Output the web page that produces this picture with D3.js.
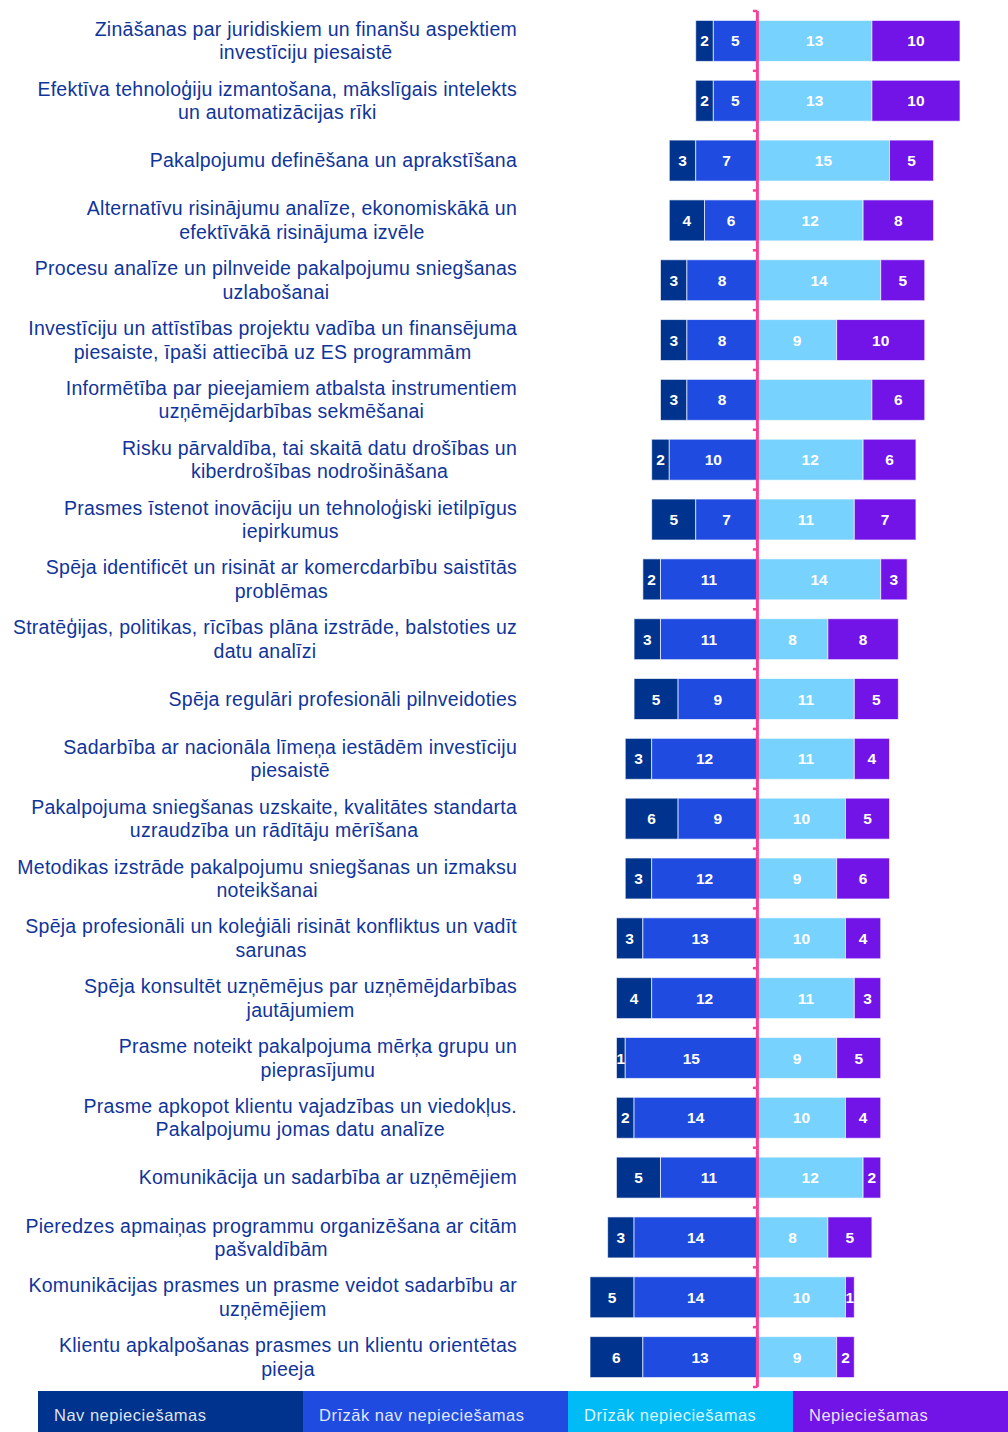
<!DOCTYPE html>
<html>
<head>
<meta charset="utf-8">
<script src="https://cdn.jsdelivr.net/npm/d3@7"></script>
<style>
  html, body { margin: 0; padding: 0; background: #ffffff; }
  svg { display: block; }
</style>
</head>
<body>
<svg id="chart" width="1008" height="1432"></svg>
<script>
// Skill categories (line breaks mark the wrapped label lines)
const categories = [
  "Zināšanas par juridiskiem un finanšu aspektiem\ninvestīciju piesaistē",
  "Efektīva tehnoloģiju izmantošana, mākslīgais intelekts\nun automatizācijas rīki",
  "Pakalpojumu definēšana un aprakstīšana",
  "Alternatīvu risinājumu analīze, ekonomiskākā un\nefektīvākā risinājuma izvēle",
  "Procesu analīze un pilnveide pakalpojumu sniegšanas\nuzlabošanai",
  "Investīciju un attīstības projektu vadība un finansējuma\npiesaiste, īpaši attiecībā uz ES programmām",
  "Informētība par pieejamiem atbalsta instrumentiem\nuzņēmējdarbības sekmēšanai",
  "Risku pārvaldība, tai skaitā datu drošības un\nkiberdrošības nodrošināšana",
  "Prasmes īstenot inovāciju un tehnoloģiski ietilpīgus\niepirkumus",
  "Spēja identificēt un risināt ar komercdarbību saistītās\nproblēmas",
  "Stratēģijas, politikas, rīcības plāna izstrāde, balstoties uz\ndatu analīzi",
  "Spēja regulāri profesionāli pilnveidoties",
  "Sadarbība ar nacionāla līmeņa iestādēm investīciju\npiesaistē",
  "Pakalpojuma sniegšanas uzskaite, kvalitātes standarta\nuzraudzība un rādītāju mērīšana",
  "Metodikas izstrāde pakalpojumu sniegšanas un izmaksu\nnoteikšanai",
  "Spēja profesionāli un koleģiāli risināt konfliktus un vadīt\nsarunas",
  "Spēja konsultēt uzņēmējus par uzņēmējdarbības\njautājumiem",
  "Prasme noteikt pakalpojuma mērķa grupu un\npieprasījumu",
  "Prasme apkopot klientu vajadzības un viedokļus.\nPakalpojumu jomas datu analīze",
  "Komunikācija un sadarbība ar uzņēmējiem",
  "Pieredzes apmaiņas programmu organizēšana ar citām\npašvaldībām",
  "Komunikācijas prasmes un prasme veidot sadarbību ar\nuzņēmējiem",
  "Klientu apkalpošanas prasmes un klientu orientētas\npieeja"
];

// Series (number of respondents)
const navNepieciesamas       = [2, 2, 3, 4, 3, 3, 3, 2, 5, 2, 3, 5, 3, 6, 3, 3, 4, 1, 2, 5, 3, 5, 6];
const drizakNavNepieciesamas = [5, 5, 7, 6, 8, 8, 8, 10, 7, 11, 11, 9, 12, 9, 12, 13, 12, 15, 14, 11, 14, 14, 13];
const drizakNepieciesamas    = [13, 13, 15, 12, 14, 9, 13, 12, 11, 14, 8, 11, 11, 10, 9, 10, 11, 9, 10, 12, 8, 10, 9];
const nepieciesamas          = [10, 10, 5, 8, 5, 10, 6, 6, 7, 3, 8, 5, 4, 5, 6, 4, 3, 5, 4, 2, 5, 1, 2];

// Value labels left out of the bars
const hiddenLabels = [{ row: 6, key: "dn" }];

const seriesNames = ["Nav nepieciešamas", "Drīzāk nav nepieciešamas", "Drīzāk nepieciešamas", "Nepieciešamas"];

const barColors    = { n: "#00338d", dnn: "#1f4be1", dn: "#78d2fe", p: "#7214e8" };
const legendColors = ["#00338d", "#1f4be1", "#00bbf5", "#7214e8"];
const axisColor = "#f7409a";
const labelColor = "#10359a";

const svg = d3.select("#chart");
const font = "'Liberation Sans', Arial, sans-serif";

// Build stacked segments per row
const rows = categories.map((c, i) => {
  const a = navNepieciesamas[i], b = drizakNavNepieciesamas[i];
  const c2 = drizakNepieciesamas[i], d = nepieciesamas[i];
  return {
    cat: c, i,
    segs: [
      { key: "n",   x0: -(a + b), x1: -b, v: a },
      { key: "dnn", x0: -b,       x1: 0,  v: b },
      { key: "dn",  x0: 0,        x1: c2, v: c2 },
      { key: "p",   x0: c2,       x1: c2 + d, v: d }
    ]
  };
});

const leftMax = d3.max(rows, r => -r.segs[0].x0);
const rightMax = d3.max(rows, r => r.segs[3].x1);

const x = d3.scaleLinear().domain([-leftMax, rightMax]).range([590, 960]);
const y = d3.scaleBand().domain(d3.range(categories.length)).range([11, 1387]).paddingInner(0.315).paddingOuter(0.1575);

// Bars
const g = svg.append("g");
const rowG = g.selectAll("g.row").data(rows).join("g").attr("class", "row");

rowG.selectAll("rect").data(r => r.segs.map(s => ({ ...s, row: r.i })))
  .join("rect")
  .attr("x", s => x(s.x0))
  .attr("y", s => y(s.row))
  .attr("width", s => x(s.x1) - x(s.x0))
  .attr("height", y.bandwidth())
  .attr("fill", s => barColors[s.key])
  .attr("stroke", "#ffffff")
  .attr("stroke-opacity", 0.65)
  .attr("stroke-width", 1);

rowG.selectAll("text").data(r => r.segs.map(s => ({ ...s, row: r.i })).filter(s =>
    s.v > 0 && !hiddenLabels.some(h => h.row === s.row && h.key === s.key)))
  .join("text")
  .attr("x", s => (x(s.x0) + x(s.x1)) / 2)
  .attr("y", s => y(s.row) + y.bandwidth() / 2)
  .attr("dy", "0.36em")
  .attr("text-anchor", "middle")
  .attr("font-family", font)
  .attr("font-weight", "bold")
  .attr("font-size", 15.5)
  .attr("fill", "#ffffff")
  .text(s => s.v);

// Category labels: lines centred on each other, block right-aligned
const labelRight = 517;
const lineH = 23.5;
const catG = svg.append("g");
rows.forEach(r => {
  const lines = r.cat.split("\n");
  const cy = y(r.i) + y.bandwidth() / 2;
  const t = catG.append("text")
    .attr("font-family", font)
    .attr("font-size", 19.5)
    .attr("letter-spacing", 0.25)
    .attr("fill", labelColor)
    .attr("text-anchor", "middle");
  const spans = lines.map((ln, k) => t.append("tspan")
    .attr("y", cy + (k - (lines.length - 1) / 2) * lineH)
    .attr("dy", "0.35em")
    .text(ln));
  const w = d3.max(spans, s => s.node().getComputedTextLength());
  spans.forEach(s => s.attr("x", labelRight - w / 2));
});

// Centre axis with ticks on the category boundaries
const ax = svg.append("g");
const zeroX = x(0);
const axisTop = y.range()[0], axisBottom = y.range()[1];
ax.append("line")
  .attr("x1", zeroX).attr("x2", zeroX)
  .attr("y1", axisTop).attr("y2", axisBottom)
  .attr("stroke", axisColor).attr("stroke-width", 3);
ax.selectAll("line.tick").data(d3.range(categories.length + 1))
  .join("line").attr("class", "tick")
  .attr("x1", zeroX - 4.5).attr("x2", zeroX)
  .attr("y1", i => axisTop + i * y.step())
  .attr("y2", i => axisTop + i * y.step())
  .attr("stroke", axisColor).attr("stroke-width", 2.5);

// Legend strip
const legendX = d3.scaleOrdinal().domain(seriesNames).range([38, 303, 568, 793]);
const legendEnd = [303, 568, 793, 1008];
const lg = svg.append("g");
seriesNames.forEach((name, i) => {
  lg.append("rect")
    .attr("x", legendX(name)).attr("y", 1391)
    .attr("width", legendEnd[i] - legendX(name)).attr("height", 41)
    .attr("fill", legendColors[i]);
  lg.append("text")
    .attr("x", legendX(name) + 16).attr("y", 1421)
    .attr("font-family", font).attr("font-size", 16.5)
    .attr("letter-spacing", 0.5)
    .attr("fill", "#ffffff").attr("fill-opacity", 0.88)
    .text(name);
});
</script>
</body>
</html>
